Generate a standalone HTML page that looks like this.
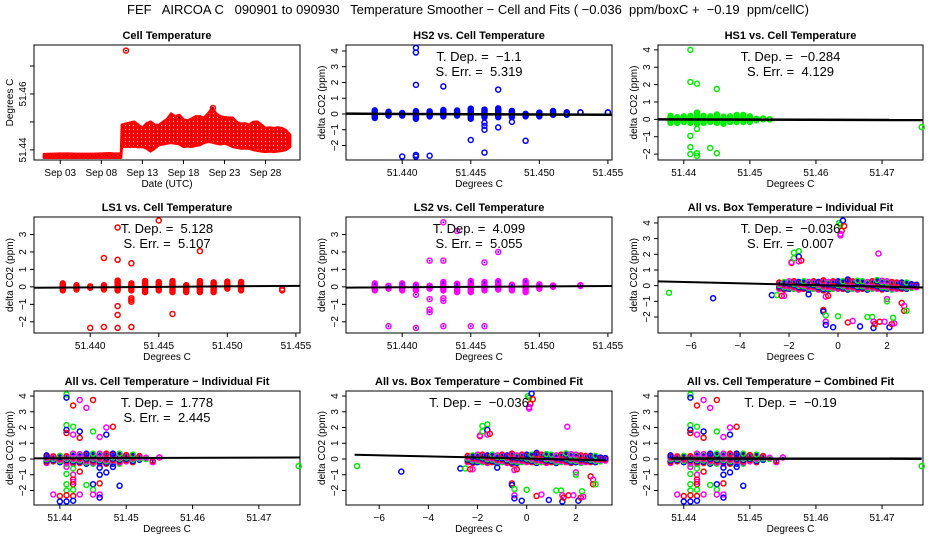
<!DOCTYPE html>
<html><head><meta charset="utf-8"><style>
html,body{margin:0;padding:0;background:#fff;}
svg{display:block;font-family:"Liberation Sans",sans-serif;}
</style></head><body>
<svg id="chart" width="936" height="540" viewBox="0 0 936 540" xmlns="http://www.w3.org/2000/svg">
<defs>
<pattern id="redpat" width="4" height="4" patternUnits="userSpaceOnUse">
<rect width="4" height="4" fill="#f00"/><rect x="1" y="1" width="1" height="1" fill="#fff"/><rect x="3" y="3" width="1" height="1" fill="#600"/>
</pattern>
</defs>
<text x="468" y="14" text-anchor="middle" font-size="13" style="white-space:pre">FEF   AIRCOA C   090901 to 090930   Temperature Smoother − Cell and Fits ( −0.036  ppm/boxC +  −0.19  ppm/cellC)</text>
</svg>
<script>
// ---- data ----
const tsDays=[1,2,3,4,5,6,7,8,9,9.5,10,10.4,10.5,12,12.5,13,13.5,14,14.5,15,15.5,16,16.5,17,17.5,18,18.5,19,19.5,20,20.5,21,21.5,22,22.5,23,23.5,24,24.5,25,25.5,26,26.5,27,27.5,28,28.5,29,29.5,30,30.5,31];
const tsLo=[51.4372,51.4372,51.4372,51.4372,51.4372,51.4372,51.4372,51.4372,51.4372,51.4372,51.4372,51.4372,51.4411,51.4412,51.4410,51.4411,51.4405,51.4395,51.4405,51.4417,51.4420,51.4423,51.4425,51.4423,51.4420,51.4411,51.4413,51.4411,51.4415,51.4417,51.4425,51.4429,51.4427,51.4423,51.4420,51.4423,51.4418,51.4411,51.4408,51.4405,51.4405,51.4405,51.4400,51.4397,51.4395,51.4393,51.4395,51.4393,51.4395,51.4397,51.4400,51.4411];
const tsHi=[51.4385,51.4386,51.4387,51.4387,51.4386,51.4386,51.4386,51.4387,51.4388,51.4387,51.4387,51.4387,51.4490,51.4501,51.4490,51.4478,51.4495,51.4501,51.4490,51.4489,51.4500,51.4510,51.4530,51.4520,51.4525,51.4509,51.4505,51.4512,51.4520,51.4520,51.4515,51.4530,51.4550,51.4530,51.4520,51.4517,51.4515,51.4515,51.4500,51.4493,51.4495,51.4490,51.4500,51.4501,51.4490,51.4478,51.4480,51.4478,51.4480,51.4478,51.4470,51.4454];
const tsOutT=[11.0,17.5,21.6];
const tsOutV=[51.4755,51.4515,51.4550];
const tsXTickVals=[3,8,13,18,23,28];
const tsXTickLabels=["Sep 03","Sep 08","Sep 13","Sep 18","Sep 23","Sep 28"];
const tsYTickVals=[51.44,51.45,51.46,51.47];
const tsYTickLabels=["51.44","","51.46",""];

const cellTicksA=[51.440,51.445,51.450,51.455];
const cellTickLabelsA=["51.440","51.445","51.450","51.455"];
const cellTicksB=[51.44,51.45,51.46,51.47];
const cellTickLabelsB=["51.44","51.45","51.46","51.47"];
const boxTicks=[-6,-4,-2,0,2];
const boxTickLabels=["−6","−4","−2","0","2"];
const dTicks7=[-2,-1,0,1,2,3,4];
const dTickLabels7=["−2","−1","0","1","2","3","4"];
const dTicks6=[-2,-1,0,1,2,3];
const dTickLabels6=["−2","−1","0","1","2","3"];

// HS2
const hs2ColX=[51.438,51.439,51.440,51.441,51.442,51.443,51.444,51.445,51.446,51.447,51.448,51.449,51.450,51.451,51.452,51.453,51.455];
const hs2Lo=[-0.25,-0.1,-0.1,-0.3,-0.15,-0.15,-0.1,-0.3,-0.2,-0.2,-0.2,-0.15,-0.15,-0.05,-0.05,0.1,0.1];
const hs2Hi=[0.25,0.2,0.1,0.2,0.2,0.3,0.25,0.35,0.35,0.4,0.2,0.05,0.15,0.2,0.15,0.1,0.1];
const hs2OutX=[51.441,51.441,51.441,51.443,51.447,51.446,51.446,51.446,51.447,51.448,51.445,51.449,51.446,51.440,51.441,51.441,51.442];
const hs2OutY=[4.2,3.9,1.85,1.75,1.55,-0.55,-0.75,-1.0,-0.85,-0.5,-1.65,-1.7,-2.45,-2.7,-2.7,-2.6,-2.65];
// HS1
const hs1ColX=[51.438,51.439,51.440,51.441,51.442,51.443,51.444,51.445,51.446,51.447,51.448,51.449,51.450,51.451,51.452,51.453];
const hs1Lo=[-0.2,-0.2,-0.15,-0.2,-0.25,-0.2,-0.15,-0.2,-0.25,-0.15,-0.15,-0.15,-0.15,-0.05,0,0];
const hs1Hi=[0.2,0.15,0.2,0.2,0.4,0.25,0.2,0.35,0.2,0.2,0.3,0.25,0.2,0.1,0.05,0];
const hs1OutX=[51.441,51.441,51.442,51.445,51.442,51.441,51.441,51.444,51.441,51.442,51.442,51.445,51.476];
const hs1OutY=[4.0,2.15,2.05,1.75,-0.55,-0.95,-1.6,-1.65,-2.0,-1.95,-2.1,-1.95,-0.45];
// LS1
const ls1ColX=[51.438,51.439,51.440,51.441,51.442,51.443,51.444,51.445,51.446,51.447,51.448,51.449,51.450,51.451,51.454];
const ls1Lo=[-0.2,-0.15,-0.05,-0.15,-0.2,-0.2,-0.3,-0.2,-0.3,-0.3,-0.3,-0.3,-0.1,-0.2,-0.2];
const ls1Hi=[0.2,0.15,0.05,0.15,0.4,0.2,0.4,0.3,0.35,0.15,0.35,0.3,0.3,0.3,-0.1];
const ls1OutX=[51.442,51.445,51.448,51.441,51.442,51.443,51.443,51.443,51.443,51.442,51.442,51.446,51.440,51.441,51.442,51.443];
const ls1OutY=[3.4,3.8,2.05,1.65,1.55,1.35,-0.65,-0.75,-0.85,-1.1,-1.6,-1.55,-2.35,-2.3,-2.35,-2.3];
// LS2
const ls2ColX=[51.438,51.439,51.440,51.441,51.442,51.443,51.444,51.445,51.446,51.447,51.448,51.449,51.450,51.451,51.453];
const ls2Lo=[-0.2,-0.1,-0.2,-0.2,-0.1,-0.2,-0.3,-0.3,-0.2,-0.15,-0.2,-0.3,-0.1,0,0.05];
const ls2Hi=[0.2,0.1,0.2,0.15,0.1,0.35,0.25,0.35,0.35,0.35,0.15,0.35,0.15,0.1,0.1];
const ls2OutX=[51.443,51.444,51.447,51.442,51.443,51.446,51.441,51.442,51.443,51.443,51.442,51.442,51.439,51.441,51.443,51.445,51.446];
const ls2OutY=[3.7,3.2,2.0,1.5,1.5,1.4,-0.45,-0.7,-0.65,-0.8,-1.3,-1.45,-2.25,-2.35,-2.25,-2.25,-2.25];
// All vs cell
const acColX=[51.438,51.439,51.440,51.441,51.442,51.443,51.444,51.445,51.446,51.447,51.448,51.449,51.450,51.451,51.452,51.453,51.454,51.455];
const acLo=[-0.25,-0.15,-0.2,-0.3,-0.3,-0.25,-0.3,-0.3,-0.3,-0.3,-0.3,-0.3,-0.15,-0.2,-0.05,0,-0.2,0.1];
const acHi=[0.3,0.2,0.2,0.25,0.4,0.35,0.4,0.35,0.35,0.4,0.35,0.35,0.3,0.3,0.2,0.1,-0.1,0.1];
const acOutX=[51.441,51.441,51.442,51.443,51.445,51.444,51.441,51.442,51.445,51.448,51.447,51.441,51.441,51.442,51.443,51.443,51.446,51.447,51.441,51.442,51.443,51.442,51.441,51.446,51.446,51.447,51.448,51.442,51.442,51.442,51.441,51.444,51.445,51.446,51.449,51.441,51.442,51.445,51.439,51.440,51.441,51.442,51.443,51.445,51.446,51.446,51.440,51.441,51.442,51.476];
const acOutY=[4.1,3.9,3.4,3.75,3.75,3.25,2.15,2.05,1.75,2.05,2.0,1.85,1.65,1.55,1.75,1.35,1.4,1.55,-0.5,-0.6,-0.8,-1.0,-0.95,-0.55,-1.0,-0.85,-0.5,-1.3,-1.45,-1.6,-1.6,-1.65,-1.6,-1.55,-1.7,-2.0,-1.95,-1.95,-2.25,-2.35,-2.3,-2.35,-2.25,-2.25,-2.25,-2.45,-2.7,-2.7,-2.65,-0.45];
const acOutC=["g","b","r","m","r","m","g","g","g","r","m","b","r","m","b","r","m","b","m","g","r","m","g","b","b","b","b","r","m","r","g","g","b","r","b","g","g","g","m","r","r","r","m","m","m","b","b","b","b","g"];
// All vs box
const abColX=[-2.4,-2.2,-2.0,-1.8,-1.6,-1.4,-1.2,-1.0,-0.8,-0.6,-0.4,-0.2,0.0,0.2,0.4,0.6,0.8,1.0,1.2,1.4,1.6,1.8,2.0,2.2,2.4,2.6,2.8,3.0,3.2];
const abLo=[-0.2,-0.25,-0.2,-0.2,-0.25,-0.2,-0.25,-0.2,-0.25,-0.3,-0.25,-0.2,-0.2,-0.2,-0.25,-0.2,-0.25,-0.2,-0.25,-0.2,-0.2,-0.25,-0.2,-0.25,-0.2,-0.2,-0.2,-0.15,-0.1];
const abHi=[0.2,0.25,0.3,0.35,0.3,0.3,0.25,0.3,0.3,0.35,0.3,0.3,0.35,0.35,0.4,0.3,0.35,0.3,0.3,0.35,0.4,0.35,0.3,0.3,0.25,0.2,0.2,0.15,0.1];
const abOutX=[-6.9,-5.1,-2.7,-2.5,-2.3,-2.2,-1.9,-1.9,-1.8,-1.6,-1.8,-1.6,-1.6,-1.5,-1.2,-0.6,-0.6,-0.5,-0.5,-0.5,-0.5,-0.4,-0.2,0.0,0.05,0.1,0.15,0.2,0.25,0.1,0.1,0.4,0.6,0.9,1.2,1.4,1.45,1.45,1.5,1.7,1.9,1.65,2.0,2.0,2.1,2.2,2.3,2.25,2.6,2.7,2.7,2.8];
const abOutY=[-0.45,-0.8,-0.6,-0.6,-0.65,-0.65,1.45,1.5,2.1,2.2,1.75,1.85,1.55,1.6,-0.55,-1.55,-1.65,-1.9,-2.3,-2.5,-0.7,-0.65,-2.65,-1.95,4.0,3.9,3.5,4.15,3.8,3.3,3.2,-2.35,-2.25,-2.6,-2.0,-2.0,-2.3,-2.7,-2.45,-2.3,-2.3,2.05,-0.85,-1.0,-2.65,-2.45,-2.4,-2.05,-1.1,-1.3,-1.6,-1.6];
const abOutC=["g","b","b","g","r","m","r","m","g","g","g","b","m","r","b","r","b","g","m","b","m","r","b","g","g","g","r","b","r","m","m","r","m","b","g","g","m","b","r","r","m","m","m","g","b","r","m","g","r","m","r","g"];

// ---- rendering ----
const NS="http://www.w3.org/2000/svg";
const svg=document.getElementById('chart');
const COL={r:"#ff0000",g:"#00ee00",b:"#0000ff",m:"#ff00ff"};
function mk(tag,attrs,parent){const e=document.createElementNS(NS,tag);for(const k in attrs)e.setAttribute(k,attrs[k]);(parent||svg).appendChild(e);return e;}
function scale(d0,d1,p0,p1){return v=>p0+(v-d0)/(d1-d0)*(p1-p0);}

function frame(P){
  const g=mk('g',{});
  
  
  const sx=scale(P.xd[0],P.xd[1],P.L,P.R), sy=scale(P.yd[0],P.yd[1],P.B,P.T);
  const t=mk('text',{x:(P.L+P.R)/2,y:P.T-6,'text-anchor':'middle','font-size':'11','font-weight':'bold'},g);
  t.textContent=P.title;
  
  
  const bx=mk('rect',{x:P.L,y:P.T,width:P.R-P.L,height:P.B-P.T,fill:'none',stroke:'#000','stroke-width':1},g);
  
  
  const ax=mk('g',{},g);
  
  
  P.xt.forEach((v,i)=>{const x=sx(v);mk('line',{x1:x,x2:x,y1:P.B,y2:P.B+4,stroke:'#000'},ax);
    const l=mk('text',{x:x,y:P.B+16,'text-anchor':'middle','font-size':'10'},ax);l.textContent=P.xl[i];});
  const ay=mk('g',{},g);
  
  
  P.yt.forEach((v,i)=>{const y=sy(v);mk('line',{x1:P.L-4,x2:P.L,y1:y,y2:y,stroke:'#000'},ay);
    if(P.yl[i]){const l=mk('text',{x:P.L-8,y:y,'text-anchor':'middle','font-size':'10',transform:`rotate(-90 ${P.L-8} ${y})`},ay);l.textContent=P.yl[i];}});
  const xt=mk('text',{x:(P.L+P.R)/2,y:P.B+27,'text-anchor':'middle','font-size':'10'},g);xt.textContent=P.xlab;
  
  
  const yy=(P.T+P.B)/2;
  const yt=mk('text',{x:P.L-21,y:yy,'text-anchor':'middle','font-size':'10',transform:`rotate(-90 ${P.L-21} ${yy})`},g);yt.textContent=P.ylab;
  
  
  return {g,sx,sy};
}
function circ(g,x,y,c,cross){mk('circle',{cx:x,cy:y,r:2.5,fill:'none',stroke:c,'stroke-width':1.5},g);
  if(cross)mk('circle',{cx:x,cy:y,r:0.9,fill:cross},g);}
function scatter(F,P,colX,lo,hi,oX,oY,oC,color,cross){
  const pts=mk('g',{},F.g);
  
  
  const cyc=["m","r","b","g"];
  colX.forEach((x,i)=>{let k=0;for(let v=lo[i];v<=hi[i]+1e-9;v+=0.08){
      const c=color?color:COL[cyc[(k+i)%4]];circ(pts,F.sx(x),F.sy(v),c,cross||(color?null:'#00f'));k++;}
    if(hi[i]-lo[i]<0.08)circ(pts,F.sx(x),F.sy(hi[i]),color||COL.m,cross);});
  oX.forEach((x,i)=>{circ(pts,F.sx(x),F.sy(oY[i]),color?color:COL[oC[i]],cross);});
}
function fit(F,x0,y0,x1,y1,w){const l=mk('line',{x1:F.sx(x0),y1:F.sy(y0),x2:F.sx(x1),y2:F.sy(y1),stroke:'#000','stroke-width':w},F.g);
  
  }
function ann(F,P,lines){lines.forEach((s,i)=>{const t=mk('text',{x:(P.L+P.R)/2+(P.ax||0),y:P.T+16+i*15,'text-anchor':'middle','font-size':'13',style:'white-space:pre'},F.g);t.textContent=s;
  
  });}

const C1={L:34,R:300},C2={L:346,R:612},C3={L:658,R:923};
const R1={T:45,B:160},R2={T:217,B:333},R3={T:391,B:505};
const DA=[51.4359,51.4553],DB=[51.4361,51.4762],DX=[-7.35,3.47];
const YL="delta CO2 (ppm)",XL="Degrees C";

// Panel 1 time series
{const P={name:'cell-temperature-panel',...C1,...R1,xd:[-0.2,32.2],yd:[51.4364,51.4775],title:'Cell Temperature',xt:tsXTickVals,xl:tsXTickLabels,yt:tsYTickVals,yl:tsYTickLabels,xlab:'Date (UTC)',ylab:'Degrees C'};
 const F=frame(P);
 let d="";tsDays.forEach((t,i)=>{d+=(i?"L":"M")+F.sx(t)+" "+F.sy(tsHi[i]);});
 for(let i=tsDays.length-1;i>=0;i--)d+="L"+F.sx(tsDays[i])+" "+F.sy(tsLo[i]);
 const band=mk('path',{d:d+"Z",fill:'url(#redpat)',stroke:'#f00','stroke-width':2.5,'stroke-linejoin':'round'},F.g);
 
 
 tsOutT.forEach((t,i)=>circ(F.g,F.sx(t),F.sy(tsOutV[i]),'#f00','#000'));}

// Panel 2 HS2
{const P={name:'hs2-panel',...C2,...R1,xd:DA,yd:[-2.92,4.38],title:'HS2 vs. Cell Temperature',xt:cellTicksA,xl:cellTickLabelsA,yt:dTicks7,yl:dTickLabels7,xlab:XL,ylab:YL};
 const F=frame(P);scatter(F,P,hs2ColX,hs2Lo,hs2Hi,hs2OutX,hs2OutY,null,'#0000ff',null);
 fit(F,51.4359,0.02,51.4553,-0.05,2.5);ann(F,P,["T. Dep. =  −1.1","S. Err. =  5.319"]);}
// Panel 3 HS1
{const P={name:'hs1-panel',...C3,...R1,xd:DB,yd:[-2.34,4.28],title:'HS1 vs. Cell Temperature',xt:cellTicksB,xl:cellTickLabelsB,yt:dTicks7,yl:dTickLabels7,xlab:XL,ylab:YL};
 const F=frame(P);scatter(F,P,hs1ColX,hs1Lo,hs1Hi,hs1OutX,hs1OutY,null,'#00ee00',null);
 fit(F,51.4361,0.0,51.4762,-0.04,2.5);ann(F,P,["T. Dep. =  −0.284","S. Err. =  4.129"]);}
// Panel 4 LS1
{const P={name:'ls1-panel',...C1,...R2,xd:DA,yd:[-2.64,4.0],title:'LS1 vs. Cell Temperature',xt:cellTicksA,xl:cellTickLabelsA,yt:dTicks6,yl:dTickLabels6,xlab:XL,ylab:YL};
 const F=frame(P);scatter(F,P,ls1ColX,ls1Lo,ls1Hi,ls1OutX,ls1OutY,null,'#ff0000',null);
 fit(F,51.4359,-0.05,51.4553,0.06,2);ann(F,P,["T. Dep. =  5.128","S. Err. =  5.107"]);}
// Panel 5 LS2
{const P={name:'ls2-panel',...C2,...R2,xd:DA,yd:[-2.64,4.0],title:'LS2 vs. Cell Temperature',xt:cellTicksA,xl:cellTickLabelsA,yt:dTicks6,yl:dTickLabels6,xlab:XL,ylab:YL};
 const F=frame(P);scatter(F,P,ls2ColX,ls2Lo,ls2Hi,ls2OutX,ls2OutY,null,'#ff00ff','#0000ff');
 fit(F,51.4359,-0.04,51.4553,0.05,2);ann(F,P,["T. Dep. =  4.099","S. Err. =  5.055"]);}
// Panel 6 All vs Box individual
{const P={name:'all-box-individual-panel',...C3,...R2,xd:DX,yd:[-3.02,4.38],title:'All vs. Box Temperature − Individual Fit',xt:boxTicks,xl:boxTickLabels,yt:dTicks7,yl:dTickLabels7,xlab:XL,ylab:YL};
 const F=frame(P);scatter(F,P,abColX,abLo,abHi,abOutX,abOutY,abOutC,null,null);
 fit(F,-7.35,0.27,3.47,-0.12,2);ann(F,P,["T. Dep. =  −0.036","S. Err. =  0.007"]);}
// Panel 7 All vs Cell individual
{const P={name:'all-cell-individual-panel',...C1,...R3,xd:DB,yd:[-2.92,4.32],title:'All vs. Cell Temperature − Individual Fit',xt:cellTicksB,xl:cellTickLabelsB,yt:dTicks7,yl:dTickLabels7,xlab:XL,ylab:YL};
 const F=frame(P);scatter(F,P,acColX,acLo,acHi,acOutX,acOutY,acOutC,null,null);
 fit(F,51.4361,0.04,51.4762,0.1,2);ann(F,P,["T. Dep. =  1.778","S. Err. =  2.445"]);}
// Panel 8 All vs Box combined
{const P={name:'all-box-combined-panel',...C2,...R3,xd:DX,yd:[-2.92,4.32],title:'All vs. Box Temperature − Combined Fit',xt:boxTicks,xl:boxTickLabels,yt:dTicks7,yl:dTickLabels7,xlab:XL,ylab:YL};
 const F=frame(P);scatter(F,P,abColX,abLo,abHi,abOutX,abOutY,abOutC,null,null);
 fit(F,-7.0,0.27,3.2,-0.08,2);ann(F,P,["T. Dep. =  −0.036"]);}
// Panel 9 All vs Cell combined
{const P={name:'all-cell-combined-panel',...C3,...R3,xd:DB,yd:[-2.92,4.32],title:'All vs. Cell Temperature − Combined Fit',xt:cellTicksB,xl:cellTickLabelsB,yt:dTicks7,yl:dTickLabels7,xlab:XL,ylab:YL};
 const F=frame(P);scatter(F,P,acColX,acLo,acHi,acOutX,acOutY,acOutC,null,null);
 fit(F,51.438,0.03,51.476,0.02,2.5);ann(F,P,["T. Dep. =  −0.19"]);}
</script>
</body></html>
